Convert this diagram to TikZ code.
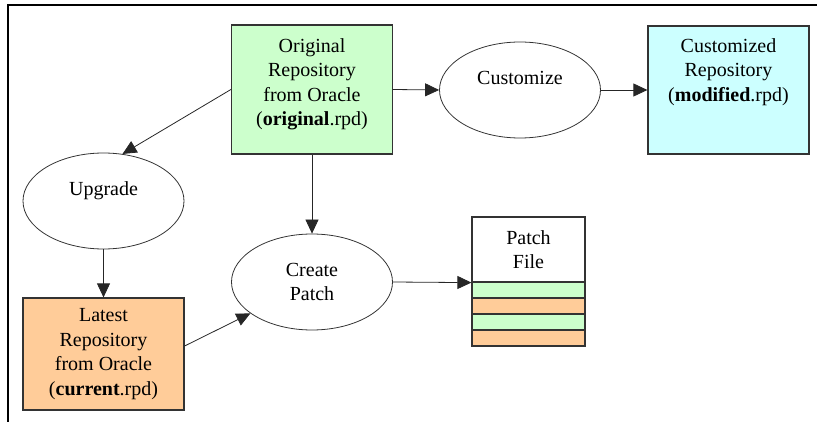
\documentclass[tikz,border=0pt]{standalone}
\usepackage{fontspec}
\setmainfont{Liberation Serif}
\usetikzlibrary{arrows.meta,shapes.geometric}
\definecolor{repogreen}{HTML}{CCFFCC}
\definecolor{repoorange}{HTML}{FFCC99}
\definecolor{repocyan}{HTML}{CCFFFF}
\definecolor{edgegray}{HTML}{333333}

\begin{document}
\begin{tikzpicture}[x=1pt, y=-1pt,
  every node/.style={font=\fontsize{20}{24.5}\selectfont, align=center},
  repo/.style={draw=edgegray, line width=1.2pt, rectangle, minimum width=161pt, minimum height=129pt, inner sep=0pt},
  task/.style={draw=black!80, line width=0.8pt, ellipse, minimum width=161pt, minimum height=96pt, inner sep=0pt},
  stripe/.style={draw=edgegray, line width=1.2pt, rectangle, minimum width=113pt, minimum height=16pt, inner sep=0pt},
  flow/.style={-{Triangle[length=14pt, width=13pt]}, line width=0.8pt, black!85}]
\useasboundingbox (0,0) rectangle (817,422);
\draw[line width=1.5pt] (8,422) -- (8,5) -- (817,5);
\node[repo, fill=repogreen] (orig) at (312,89.5) {Original\\Repository\\from Oracle\\(\textbf{original}.rpd)\\[-10pt]~};
\node[task] (customize) at (520,90) {Customize\\~};
\node[repo, fill=repocyan, minimum height=128pt] (custom) at (728.5,90) {Customized\\Repository\\(\textbf{modified}.rpd)\\[16pt]~};
\node[task] (upgrade) at (103.5,201) {Upgrade\\~};
\node[repo, fill=repoorange, minimum height=112pt] (latest) at (103.5,354) {Latest\\Repository\\from Oracle\\(\textbf{current}.rpd)};
\node[task] (createpatch) at (312,282) {Create\\Patch};
\node[draw=edgegray, line width=1.2pt, minimum width=113pt, minimum height=65pt, inner sep=0pt] (patch) at (528.5,249.5) {Patch\\File};
\node[stripe, fill=repogreen] (stripe1) at (528.5,290) {};
\node[stripe, fill=repoorange] (stripe2) at (528.5,306) {};
\node[stripe, fill=repogreen] (stripe3) at (528.5,322) {};
\node[stripe, fill=repoorange] (stripe4) at (528.5,338) {};
\draw[flow] (orig.west) -- (upgrade.68);
\draw[flow] (orig.east) -- (customize.west);
\draw[flow] (customize.east) -- (custom.west);
\draw[flow] (orig.south) -- (createpatch.north);
\draw[flow] (upgrade.south) -- (latest.north);
\draw[flow] ([yshift=8pt]latest.east) -- (createpatch.207);
\draw[flow] (createpatch.east) -- (patch.south west);
\end{tikzpicture}
\end{document}
